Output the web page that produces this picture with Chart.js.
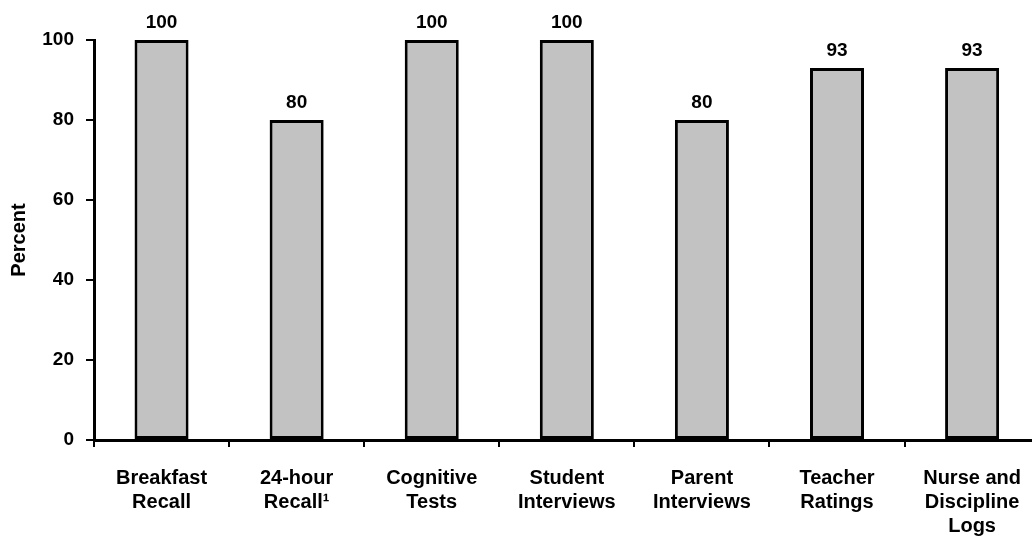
<!DOCTYPE html>
<html>
<head>
<meta charset="utf-8">
<script src="https://cdn.jsdelivr.net/npm/chart.js@4.4.1/dist/chart.umd.min.js"></script>
<style>
  html, body { margin: 0; padding: 0; background: #fff; overflow: hidden; }
  #wrap { width: 1040px; height: 536px; }
</style>
</head>
<body>
<div id="wrap"><canvas id="grafico" width="1040" height="536"></canvas></div>
<script>
const categorias = [
  ["Breakfast", "Recall"],
  ["24-hour", "Recall\u00b9"],
  ["Cognitive", "Tests"],
  ["Student", "Interviews"],
  ["Parent", "Interviews"],
  ["Teacher", "Ratings"],
  ["Nurse and", "Discipline", "Logs"],
];
const percentuais = [100, 80, 100, 100, 80, 93, 93];
const ticksY = [0, 20, 40, 60, 80, 100];

const fonteNegrito = { family: "Arial, 'Liberation Sans', sans-serif", size: 19, weight: "bold" };

// rotulos de valor acima de cada barra
const rotulosBarras = {
  id: "rotulosBarras",
  afterDatasetsDraw(chart) {
    const ctx = chart.ctx;
    const meta = chart.getDatasetMeta(0);
    ctx.save();
    ctx.font = "bold 19px Arial, 'Liberation Sans', sans-serif";
    ctx.fillStyle = "#000";
    ctx.textAlign = "center";
    ctx.textBaseline = "middle";
    meta.data.forEach((barra, i) => {
      ctx.fillText(String(percentuais[i]), barra.x, barra.y - 17);
    });
    ctx.restore();
  },
};

new Chart(document.getElementById("grafico"), {
  type: "bar",
  data: {
    labels: categorias,
    datasets: [
      {
        data: percentuais,
        backgroundColor: "#c2c2c2",
        borderColor: "#000",
        borderWidth: 3,
        borderSkipped: false,
        barPercentage: 0.4,
        categoryPercentage: 1,
      },
    ],
  },
  options: {
    responsive: false,
    animation: false,
    layout: { padding: { top: 40, left: 0, right: 0, bottom: 0 } },
    plugins: { legend: { display: false }, tooltip: { enabled: false } },
    scales: {
      x: {
        afterFit: (s) => { s.height = 96; },
        grid: {
          offset: true,
          drawOnChartArea: false,
          tickLength: 7,
          color: "#000",
          lineWidth: 2,
        },
        border: { color: "#000", width: 3 },
        ticks: { color: "#000", font: { ...fonteNegrito, size: 20, lineHeight: 1.2 }, padding: 19, maxRotation: 0, autoSkip: false },
      },
      y: {
        min: 0,
        max: 100,
        afterFit: (s) => { s.width = 94; },
        afterBuildTicks: (s) => { s.ticks = ticksY.map((v) => ({ value: v })); },
        grid: {
          drawOnChartArea: false,
          tickLength: 8,
          color: "#000",
          lineWidth: 2,
        },
        border: { color: "#000", width: 3 },
        ticks: { color: "#000", font: fonteNegrito, padding: 12 },
        title: {
          display: true,
          text: "Percent",
          color: "#000",
          font: { ...fonteNegrito, size: 20 },
          padding: { top: 7, bottom: 0 },
        },
      },
    },
  },
  plugins: [rotulosBarras],
});
</script>
</body>
</html>
